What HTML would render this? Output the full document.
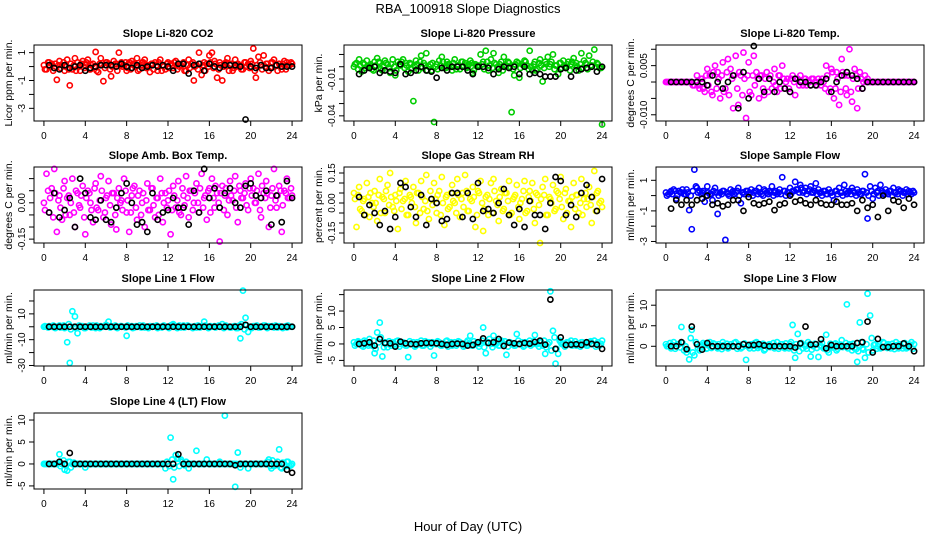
<!DOCTYPE html>
<html><head><meta charset="utf-8"><style>
html,body{margin:0;padding:0;background:#fff}
svg{display:block}
text{font-family:"Liberation Sans",sans-serif}
</style></head><body>
<svg id="chart" width="936" height="540" xmlns="http://www.w3.org/2000/svg">
<text x="468" y="13" text-anchor="middle" font-size="13">RBA_100918  Slope Diagnostics</text>
<text x="468" y="531" text-anchor="middle" font-size="13">Hour of Day (UTC)</text>
</svg>
<script>
const hoursC = [0,0.25,0.5,0.75,1,1.25,1.5,1.75,2,2.25,2.5,2.75,3,3.25,3.5,3.75,4,4.25,4.5,4.75,5,5.25,5.5,5.75,6,6.25,6.5,6.75,7,7.25,7.5,7.75,8,8.25,8.5,8.75,9,9.25,9.5,9.75,10,10.25,10.5,10.75,11,11.25,11.5,11.75,12,12.25,12.5,12.75,13,13.25,13.5,13.75,14,14.25,14.5,14.75,15,15.25,15.5,15.75,16,16.25,16.5,16.75,17,17.25,17.5,17.75,18,18.25,18.5,18.75,19,19.25,19.5,19.75,20,20.25,20.5,20.75,21,21.25,21.5,21.75,22,22.25,22.5,22.75,23,23.25,23.5,23.75,24];
const hoursC2 = [0.1,0.4,0.6,0.9,1.1,1.4,1.6,1.9,2.1,2.4,2.6,2.9,3.1,3.4,3.6,3.9,4.1,4.4,4.6,4.9,5.1,5.4,5.6,5.9,6.1,6.4,6.6,6.9,7.1,7.4,7.6,7.9,8.1,8.4,8.6,8.9,9.1,9.4,9.6,9.9,10.1,10.4,10.6,10.9,11.1,11.4,11.6,11.9,12.1,12.4,12.6,12.9,13.1,13.4,13.6,13.9,14.1,14.4,14.6,14.9,15.1,15.4,15.6,15.9,16.1,16.4,16.6,16.9,17.1,17.4,17.6,17.9,18.1,18.4,18.6,18.9,19.1,19.4,19.6,19.9,20.1,20.4,20.6,20.9,21.1,21.4,21.6,21.9,22.1,22.4,22.6,22.9,23.1,23.4,23.6,23.9];
const hoursK = [0.5,1,1.5,2,2.5,3,3.5,4,4.5,5,5.5,6,6.5,7,7.5,8,8.5,9,9.5,10,10.5,11,11.5,12,12.5,13,13.5,14,14.5,15,15.5,16,16.5,17,17.5,18,18.5,19,19.5,20,20.5,21,21.5,22,22.5,23,23.5,24];
const xTicks = [0,4,8,12,16,20,24];

const co2Color = [0.1,-0.2,0.3,0.2,-0.1,-0.95,0.4,0.1,-0.3,0.5,-1.35,-0.2,0.6,0.3,-0.3,0.4,0.1,0.5,-0.2,0.2,1.05,-0.4,0.6,-1.05,0.3,0.2,-0.7,0.4,0.2,1.0,0.3,0.1,-0.3,0.3,0.4,0.2,0.6,-0.2,0.3,0.5,0.1,-0.4,0.2,0.3,-0.3,0.5,0.1,-0.2,0.3,0.2,-0.1,0.4,0.2,0.1,0.3,-0.3,0.5,0.2,-1.0,0.1,1.0,-0.6,0.3,0.2,0.8,1.0,0.4,-0.8,0.3,-1.0,0.2,0.6,0.1,-0.3,0.5,0.2,0.1,-0.2,0.3,0.2,0.4,1.3,-0.8,0.7,0.1,0.8,0.2,-0.3,0.3,0.5,0.1,0.2,-0.2,0.4,0.3,0.1,0.2];
const co2Color2 = [-0.2,0.3,0.0,-0.3,0.2,0.1,-0.1,0.3,0.0,-0.2,0.2,0.1,-0.3,0.0,0.2,-0.1,0.3,-0.2,0.1,0.0,-0.3,0.2,0.1,-0.1,0.3,-0.2,0.0,0.2,-0.3,0.1,0.0,0.3,-0.1,-0.2,0.2,0.0,-0.3,0.1,0.3,-0.1,0.0,0.2,-0.2,0.1,0.3,-0.3,0.0,0.2,-0.1,0.1,0.3,-0.2,0.0,0.2,-0.3,0.1,-0.1,0.3,0.0,-0.2,0.2,0.1,-0.3,0.0,0.3,-0.1,0.2,-0.2,0.1,0.0,0.3,-0.3,0.2,-0.1,0.0,0.1,-0.2,0.3,0.0,-0.1,0.2,-0.3,0.1,0.3,-0.2,0.0,0.2,-0.1,0.3,0.1,-0.3,0.0,0.2,-0.2,0.1,0.3];
const co2Black = [0.1,-0.1,-0.2,0.1,-0.1,0.0,0.1,-0.3,-0.1,0.0,0.1,0.1,0.1,0.0,0.2,0.0,-0.1,0.1,-0.1,0.0,0.1,0.0,0.1,0.0,-0.3,0.2,0.2,-0.5,0.1,0.2,-0.3,0.2,0.0,-0.1,0.1,0.1,0.1,0.0,-3.8,0.0,-0.1,0.1,-0.1,-0.1,0.1,0.0,0.0,0.0];
const presColor = [0.000,0.003,0.006,-0.004,0.002,0.005,0.001,-0.002,0.004,0.007,0.003,-0.003,0.005,0.002,-0.005,0.006,-0.007,0.004,0.001,0.006,0.003,-0.004,0.002,-0.028,0.005,-0.003,0.009,0.003,0.011,0.000,-0.003,-0.045,0.002,0.005,0.008,-0.001,0.004,0.002,-0.003,0.006,0.001,-0.002,0.004,0.003,0.000,0.005,-0.005,0.002,0.001,0.010,0.004,0.013,-0.003,0.006,0.011,0.002,-0.005,0.004,0.008,0.001,0.003,-0.037,-0.007,0.004,-0.009,0.002,0.005,0.001,0.013,-0.003,0.004,-0.002,0.006,-0.012,0.004,0.008,0.002,0.010,0.001,-0.006,0.003,0.005,-0.001,0.004,0.002,0.007,0.003,-0.003,0.011,0.005,0.002,0.009,0.001,0.014,0.003,-0.001,-0.047];
const presColor2 = [0.002,-0.002,0.001,0.003,-0.001,0.000,0.002,-0.003,0.001,0.004,-0.002,0.000,0.003,-0.001,0.002,0.000,-0.003,0.002,0.004,-0.001,0.001,0.003,-0.002,0.000,0.002,0.004,-0.001,0.001,-0.003,0.002,0.003,0.000,-0.002,0.001,0.004,-0.001,0.002,0.000,0.003,-0.002,0.001,0.004,0.000,-0.001,0.002,0.003,-0.003,0.001,0.000,0.002,-0.002,0.004,0.001,-0.001,0.003,0.000,0.002,-0.003,0.001,0.004,0.000,-0.002,0.002,0.003,-0.001,0.001,0.004,-0.002,0.000,0.002,-0.003,0.003,0.001,-0.001,0.002,0.000,0.004,-0.002,0.001,0.003,-0.001,0.000,0.002,-0.003,0.004,0.001,0.000,0.002,-0.001,0.003,-0.002,0.001,0.004,0.000,0.002,-0.001];
const presBlack = [-0.006,-0.003,-0.001,0.000,-0.005,-0.003,-0.004,-0.005,0.002,-0.006,-0.005,-0.003,0.000,-0.003,-0.004,-0.009,-0.001,-0.003,0.000,0.000,0.000,-0.003,-0.006,0.000,0.000,-0.001,-0.006,-0.002,0.000,-0.001,0.000,-0.006,0.000,-0.006,-0.005,-0.006,-0.008,-0.008,-0.008,-0.002,-0.001,-0.008,-0.003,-0.002,-0.001,0.000,-0.004,0.000];
const tempColor = [0,0,0,0,0,0,0,0,0,0,0,-0.001,0.002,-0.002,0.001,-0.003,0.004,0.002,-0.004,0.005,0.003,-0.005,0.006,-0.002,0.007,0.004,-0.008,0.008,-0.007,0.002,0.009,-0.011,0.006,-0.004,0.008,0.003,-0.005,0.002,-0.004,0.003,0.001,-0.002,0.004,-0.003,0.002,0.005,-0.002,0.001,-0.003,0.002,-0.004,0.001,0.002,-0.001,0.001,0.000,-0.001,0.001,0.000,0.001,-0.001,0.000,0.005,-0.003,0.004,-0.005,0.003,-0.007,0.007,0.002,-0.004,0.010,-0.006,0.004,-0.008,0.003,-0.002,0.002,0.001,0,0,0,0,0,0,0,0,0,0,0,0,0,0,0,0,0,0];
const tempColor2 = [0,0,0,0,0,0,0,0,0,0,-0.001,0,-0.001,0.001,-0.002,0.002,-0.001,-0.003,0.003,-0.002,0.001,0.002,-0.003,0.003,-0.004,0.001,0.002,-0.002,0.003,-0.004,0.001,0.002,-0.003,0.002,-0.001,0.001,0.002,-0.002,0.001,-0.003,0.002,0.000,-0.001,0.002,-0.002,0.001,0.000,-0.002,0.001,0.000,0.001,-0.001,0.000,0.001,-0.001,0.000,0.001,0.000,-0.001,0.000,0.001,-0.002,0.002,-0.002,0.003,-0.002,0.001,-0.003,0.003,-0.002,0.002,-0.003,0.001,0.002,-0.002,0.001,0.000,0,0,0,0,0,0,0,0,0,0,0,0,0,0,0,0,0,0,0];
const tempBlack = [0,0,0,0,0,0,0,-0.001,0.002,0,-0.002,0,0.002,-0.008,0.003,-0.005,0.011,0.001,-0.003,0.001,-0.003,0,-0.002,-0.003,0.001,0,0,-0.001,-0.001,0,0.001,-0.003,0.0,0.002,0.003,0.002,0.001,-0.002,0,0,0,0,0,0,0,0,0,0];
const ambColor = [0.0,0.12,-0.04,0.06,0.14,-0.12,0.03,-0.07,0.09,0.02,-0.05,0.1,-0.1,0.04,-0.02,0.07,-0.13,0.05,0.0,-0.08,0.08,-0.03,0.11,-0.06,0.02,0.09,-0.09,0.04,-0.11,0.06,0.01,0.1,-0.04,-0.12,0.03,0.07,-0.07,0.05,0.0,-0.1,0.08,-0.03,0.06,-0.06,0.02,0.1,-0.08,0.04,0.01,-0.13,0.07,-0.02,0.09,-0.05,0.03,0.11,-0.06,0.05,0.0,0.08,-0.04,0.12,0.02,-0.07,0.06,0.1,-0.02,0.04,-0.16,0.07,0.03,-0.05,0.09,0.01,0.11,-0.08,0.05,0.02,0.08,-0.03,0.1,0.06,0.0,0.12,-0.06,0.04,0.09,-0.1,0.03,0.14,-0.02,0.07,-0.12,0.05,0.1,0.02,0.03];
const ambColor2 = [-0.03,0.05,0.02,-0.06,0.04,0.01,-0.02,0.06,-0.05,0.03,0.0,-0.04,0.05,-0.01,0.03,-0.06,0.02,0.04,-0.03,0.06,-0.02,0.01,0.05,-0.04,0.03,-0.01,0.04,-0.05,0.02,0.0,-0.03,0.05,0.01,-0.04,0.06,-0.02,0.03,-0.05,0.04,0.01,-0.03,0.06,-0.01,0.02,-0.05,0.04,0.0,-0.02,0.05,-0.03,0.03,0.01,-0.04,0.06,-0.01,0.02,0.05,-0.03,0.04,0.0,0.06,-0.02,0.03,0.05,-0.04,0.02,0.07,0.0,0.04,-0.03,0.06,0.01,0.03,0.05,-0.02,0.07,0.02,0.04,-0.01,0.06,0.03,0.0,0.05,-0.03,0.07,0.02,0.04,-0.02,0.06,0.01,0.03,0.05,-0.01,0.04,0.02,0.06,0.0];
const ambBlack = [-0.04,0.04,-0.06,-0.03,0.02,-0.1,0.1,0.04,-0.06,-0.07,0.01,-0.07,-0.08,-0.02,0.04,0.08,0.0,-0.09,-0.08,-0.12,0.04,-0.07,-0.04,-0.03,0.02,-0.02,-0.02,-0.09,0.05,-0.04,0.14,0.02,0.06,-0.02,0.04,0.06,0.0,-0.02,0.07,0.08,0.03,0.02,0.05,-0.09,0.03,-0.08,0.09,0.02];
const rhColor = [0.05,-0.12,0.08,-0.04,0.02,0.1,-0.07,0.0,0.06,-0.09,0.12,0.03,-0.05,0.09,0.15,-0.02,0.04,-0.13,0.07,0.01,0.11,-0.06,0.03,0.08,-0.1,0.05,0.11,-0.03,0.14,-0.08,0.02,0.1,-0.05,0.06,0.13,-0.11,0.04,-0.02,0.09,0.0,0.12,-0.07,0.05,0.14,-0.04,0.02,0.08,-0.12,0.06,0.11,-0.14,0.03,-0.06,0.1,0.12,0.01,-0.09,0.07,-0.03,0.05,0.11,-0.05,0.03,0.09,-0.08,0.02,0.11,-0.04,0.06,0.1,-0.1,0.04,-0.2,0.08,0.12,-0.06,0.02,0.09,-0.03,0.05,0.13,-0.08,0.07,0.01,-0.12,0.1,0.04,-0.05,0.12,0.02,-0.02,0.08,-0.1,0.16,0.05,0.0,-0.02];
const rhColor2 = [0.02,0.04,-0.03,0.01,-0.06,0.03,0.05,-0.02,0.0,0.04,-0.05,0.02,0.06,-0.01,0.03,-0.04,0.01,0.05,-0.03,0.02,-0.06,0.04,0.0,-0.02,0.05,-0.05,0.03,0.01,-0.04,0.06,-0.01,0.02,0.04,-0.06,0.0,0.03,-0.03,0.05,0.01,-0.05,0.04,0.02,-0.02,0.06,-0.04,0.01,0.03,-0.06,0.05,0.0,-0.03,0.04,0.02,-0.05,0.06,-0.01,0.03,-0.04,0.05,0.01,-0.06,0.02,0.04,-0.02,0.0,0.06,-0.05,0.03,0.01,-0.03,0.05,-0.01,0.02,0.04,-0.06,0.03,0.0,-0.04,0.06,0.02,-0.02,0.05,-0.05,0.01,0.03,-0.03,0.04,0.0,-0.06,0.05,0.02,-0.01,0.03,-0.04,0.06,0.01,-0.02];
const rhBlack = [0.03,-0.06,-0.01,-0.05,-0.11,-0.04,-0.13,-0.07,0.1,0.08,-0.02,-0.07,0.04,-0.11,0.02,0.0,-0.09,-0.08,0.05,0.05,-0.07,0.05,-0.08,0.1,-0.04,-0.03,-0.05,0.0,0.07,-0.06,-0.11,-0.03,-0.12,0.01,-0.06,-0.06,-0.13,0.0,0.13,0.11,-0.06,-0.01,-0.07,0.05,0.09,0.03,-0.04,0.12];
const flowColor = [0.2,0.1,0.3,0.4,-0.2,0.3,0.2,0.1,0.4,-0.95,-2.2,1.7,0.5,0.3,0.2,-0.4,0.6,0.1,-0.3,0.5,-1.2,0.2,0.3,-2.9,0.1,0.4,0.3,0.2,0.5,-0.5,0.2,0.3,0.1,0.4,0.2,0.3,0.5,0.1,0.4,0.2,0.3,0.6,0.2,0.1,0.4,1.2,0.3,0.2,0.5,0.3,0.9,0.4,0.7,0.2,0.5,0.3,0.6,0.2,0.8,0.4,0.2,0.3,0.1,0.4,0.2,-0.3,0.3,0.5,0.2,0.7,0.1,0.3,0.5,0.2,0.4,0.1,0.3,1.4,-1.5,0.6,-0.2,0.5,0.3,0.7,0.2,0.4,0.1,0.3,0.5,0.2,0.4,0.3,0.2,0.4,0.3,0.1,0.2];
const flowColor2 = [0.0,0.2,0.1,0.3,0.0,0.2,0.4,0.1,0.2,0.0,0.3,0.6,0.2,0.1,0.3,0.0,0.2,0.1,0.3,0.2,0.0,0.1,0.3,0.2,0.0,0.2,0.1,0.3,0.0,0.2,0.1,0.3,0.2,0.0,0.3,0.1,0.2,0.0,0.3,0.1,0.2,0.0,0.3,0.2,0.1,0.3,0.0,0.2,0.1,0.3,0.4,0.2,0.5,0.3,0.1,0.4,0.2,0.3,0.1,0.2,0.0,0.3,0.1,0.2,0.0,0.3,0.1,0.2,0.0,0.3,0.2,0.1,0.3,0.0,0.2,0.1,0.3,0.2,0.0,0.3,0.1,0.2,0.0,0.3,0.1,0.2,0.3,0.0,0.2,0.1,0.3,0.0,0.2,0.1,0.2,0.3,0.0];
const flowBlack = [-0.85,-0.3,-0.6,-0.3,-0.6,-0.3,-0.2,0.0,-0.6,-0.5,-0.7,-0.6,-0.3,-0.3,-1.0,-0.1,-0.5,-0.6,-0.5,-0.4,-0.95,-0.6,-0.5,0.0,-0.4,-0.3,-0.5,-0.6,-0.3,-0.5,-0.6,-0.6,-0.4,-0.6,-0.6,-0.5,-1.0,-0.3,-0.8,-0.6,-1.4,0.0,-1.0,-0.3,-0.4,-0.8,-0.2,-0.6];
const line1Color = [0,0,0.5,0,-0.5,0,1,0,-1,-12,-28,12,8,-5,0,0.5,-1,0,0.5,1,-1,0,0.5,0,1.5,4,0.5,0,-0.5,0,0.5,0,-7,0,0.5,-0.5,0,1,0,-0.5,0,0.5,0,0,-1,0,0.5,0,0,1,2,0.5,0,-0.5,1,0,0.5,0,0,-0.5,0,0.5,4,0,-0.5,0,0.5,0,0,2,0.5,0,-0.5,0,0.5,-1,-9,28,7,-4,0,0.5,0,-0.5,0,1,0,0.5,0,-0.5,0,0.5,0,0,-0.5,0,0];
const line1Color2 = [0.5,-0.5,0,1,-1,0.5,-0.5,1,0,2,-2,0,-1,1,0.5,-1,0,1,-0.5,0,1,-1,0,0.5,1,-0.5,0,1,-1,0.5,0,-0.5,1,0,-1,0.5,0,-0.5,1,0,-1,0,0.5,1,0,-0.5,1,0,-1,1.5,0,-1,1,0,-0.5,1,0,-1,0.5,1,-0.5,0,1,-1,0.5,0,-0.5,1,0,-1,1,0,-0.5,0.5,-1,1,2,-2,1,0,-1,0.5,1,-0.5,0,1,-1,0,0.5,1,-0.5,0,-1,0.5,1,0,-0.5];
const line1Black = [0,0,0,0,0,0,0,0,0,0,0,0,0,0,0,0,0,0,0,0,0,0,0,0,0,0,0,0,0,0,0,0,0,0,0,0,0,0,1.5,0,0,0,0,0,0,0,0,0];
const line2Color = [0.5,0,0.5,-0.5,1,0,1.5,-0.5,-2.8,3.5,6.5,-3.8,0.5,-1,0,0.5,-0.5,1,0,0.5,-0.5,-4,0,0.5,-0.5,0,1,-0.5,0,0.5,0,-3.5,0,0.5,-0.5,0,1,0,-0.5,0.5,0,0.5,0,-0.5,1,2.5,-0.5,0,0.5,0,5,-2.8,0.5,0,2.5,0,-0.5,1,0,-3.3,0.5,0,-0.5,3,0,0.5,-0.5,0,1,0,2.7,0,0.5,-0.5,-3,0,16,4,-6,-3,0.5,0,-0.5,0.5,1,0,-0.5,0,0.5,0,-0.5,0.5,0,1,0,-0.5,1];
const line2Color2 = [-0.5,0.8,0,-0.8,0.5,-0.5,0,1,-1.5,0.5,2,-1,0,0.8,-0.5,0,0.8,-0.8,0.5,0,-0.5,0.8,0,-0.8,0.5,0,-0.5,0.8,0,-0.8,0.5,0,0.8,-0.5,0,0.8,-0.8,0.5,0,-0.5,0.8,0,-0.8,0.5,0,-0.5,0.8,0,-0.8,1,-1,0.5,1.5,-1,0,0.8,-0.5,0,0.8,-0.8,0.5,0,-0.5,1,0,-0.8,0.5,0,-0.5,0.8,0,-0.8,0.5,1,-1,0.5,-2,2,-1.5,1,0,-0.8,0.5,0,-0.5,0.8,0,-0.8,0.5,0,-0.5,0.8,0,-0.8,0.5,0,-0.5];
const line2Black = [0,0.2,0.5,-0.5,1.5,0.3,0.2,-0.8,0.7,0.2,0,-0.1,0.2,0.3,0.3,0.2,0,-0.3,0,0.1,0,-0.5,-0.3,0.5,1.7,0.3,0.5,1.5,-0.6,0.4,0.2,0,0.3,0.1,0.6,1,-0.2,13.5,-1.5,2,-0.3,-0.2,-0.1,-0.3,0.5,0,-0.2,-1.5];
const line3Color = [0.5,0,-0.5,1,0,0.5,4.7,-1,-1.5,-3.2,4,-2.2,0.5,-1,0,0.5,-0.5,1,0,0.5,-0.5,0,1,0,-0.5,0.5,0,1,0,-0.5,0.5,-3.3,0,0.5,-0.5,1,0,0.5,-1,0,0.5,0,-0.5,1,0,0.5,-0.5,0,0.5,5.2,-2.8,3,0.5,-0.5,0,1,-2.5,0,0.5,-2.6,0,-0.5,2.8,-1.5,0,0.5,-1,0,1.5,0,10.2,0.5,-1,-0.5,-3.8,5.8,-0.5,-2.8,12.8,7.5,-1,0.5,0,-0.5,1,0,0.5,-0.5,0,1,-0.5,0,0.5,-0.5,0,1,0.5];
const line3Color2 = [0,0.8,0.3,-0.6,0.5,-0.3,0.8,0,-0.8,2,-1.5,1,-0.5,0.3,0.8,-0.6,0.2,-0.4,0.7,-0.2,0.5,-0.7,0.3,0.6,-0.3,0,0.8,-0.6,0.4,-0.2,0.7,0,-0.5,0.3,0.8,-0.4,0.1,0.6,-0.7,0.3,-0.2,0.8,0,-0.6,0.5,-0.3,0.7,-0.5,1,-1,0.5,-1.2,0.8,0.3,-0.6,0.5,-0.8,0.6,-0.4,0.2,0.8,-0.5,-1,0.6,-0.3,0.7,-0.6,0.4,-0.2,0.8,-0.5,0.3,0.6,-0.7,-1.2,1,-0.8,0.5,-1.5,2,0.3,-0.6,0.5,-0.3,0.8,-0.4,0.2,0.6,-0.7,0.3,0.5,-0.5,0.8,-0.3,0.4,-0.6,0.2];
const line3Black = [0,0,1,-0.7,4.8,0.5,-0.8,0.8,0,0,0,0,0,0,0.5,0.3,0.3,0.5,0.2,0,0,0,0,0,-0.3,0.7,4.8,0.4,0.5,1.7,-0.5,0.3,0,0,0,0,0.8,1,6,-1.5,1.8,-0.2,-0.2,0,0,0.7,0,-1.2];
const line4Color = [0,0,0,0,0,0,2.2,0,-1.3,-1.5,0.5,0,0,0,0,0,-0.8,0,0,0,0,0,0,0,0,0,0,0,0,0,0,0,0,0,0,0,0,0,0,0,0,0,0,0,0,0,0,-1,0,6,-3.5,2,1.3,1,0,0.5,-1,0,0,3,0,0,0,1,0,0,0,0,0.5,0,11,0,0,0,-5.2,2.6,-0.8,0,0,-1,0,0,0,0,0,0,0,1,-1,-0.5,0,3.3,-1,0,0.5,-0.5,0];
const line4Color2 = [0,0,0,0,0,0.3,-0.5,0.8,-0.3,0.5,-0.8,0.3,0,0,0,0,0,0,0,0,0,0,0,0,0,0,0,0,0,0,0,0,0,0,0,0,0,0,0,0,0,0,0,0,0,0,0,0.5,-0.5,1,-0.8,1.2,-0.5,0.5,-0.3,0,0,0,0,0,0,0,0,0,0,0,0,0,0,0,0,0,0,0,0,0,0,0,0,0,0,0,0,0,0,0,0.5,-0.5,0.8,-0.3,0.5,-0.8,0.3,-0.5,0.5,-0.3,0];
const line4Black = [0,0,0.5,0,2.5,0,0,0,0,0,0,0,0,0,0,0,0,0,0,0,0,0,0,0,0,2.2,0,0,0,0,0,0,0,0,0,0,-0.3,0,0,0,0,0,0,0,0,0,-1.3,-2];

const panels = [
 {id:'co2',title:'Slope Li-820 CO2',ylab:'Licor ppm per min.',col:0,row:0,ymin:-3.91,ymax:1.55,ticks:[1,0,-1,-2,-3],labels:['1','','-1','','-3'],color:'#ff0000',c:co2Color,c2:co2Color2,k:co2Black},
 {id:'pressure',title:'Slope Li-820 Pressure',ylab:'kPa per min.',col:1,row:0,ymin:-0.0442,ymax:0.0177,ticks:[0.01,0,-0.01,-0.02,-0.03,-0.04],labels:['','','-0.01','','','-0.04'],color:'#00cd00',c:presColor,c2:presColor2,k:presBlack},
 {id:'temp',title:'Slope Li-820 Temp.',ylab:'degrees C per min.',col:2,row:0,ymin:-0.0119,ymax:0.0113,ticks:[0.01,0.005,0,-0.005,-0.01],labels:['','0.005','','','-0.010'],color:'#ff00ff',c:tempColor,c2:tempColor2,k:tempBlack},
 {id:'amb-temp',title:'Slope Amb. Box Temp.',ylab:'degrees C per min.',col:0,row:1,ymin:-0.166,ymax:0.148,ticks:[0.1,0.05,0,-0.05,-0.1,-0.15],labels:['','','0.00','','','-0.15'],color:'#ff00ff',c:ambColor,c2:ambColor2,k:ambBlack},
 {id:'rh',title:'Slope Gas Stream RH',ylab:'percent per min.',col:1,row:1,ymin:-0.2,ymax:0.18,ticks:[0.15,0.1,0.05,0,-0.05,-0.1,-0.15],labels:['0.15','','','0.00','','','-0.15'],color:'#ffff00',c:rhColor,c2:rhColor2,k:rhBlack},
 {id:'sample-flow',title:'Slope Sample Flow',ylab:'ml/min per min.',col:2,row:1,ymin:-3.1,ymax:1.87,ticks:[1,0,-1,-2,-3],labels:['1','','-1','','-3'],color:'#0000ff',c:flowColor,c2:flowColor2,k:flowBlack},
 {id:'line1',title:'Slope Line 1 Flow',ylab:'ml/min per min.',col:0,row:2,ymin:-30.4,ymax:28.5,ticks:[20,10,0,-10,-20,-30],labels:['','10','','-10','','-30'],color:'#00ffff',c:line1Color,c2:line1Color2,k:line1Black},
 {id:'line2',title:'Slope Line 2 Flow',ylab:'ml/min per min.',col:1,row:2,ymin:-6.7,ymax:16.4,ticks:[15,10,5,0,-5],labels:['','10','5','0','-5'],color:'#00ffff',c:line2Color,c2:line2Color2,k:line2Black},
 {id:'line3',title:'Slope Line 3 Flow',ylab:'ml/min per min.',col:2,row:2,ymin:-4.8,ymax:13.7,ticks:[10,5,0],labels:['10','5','0'],color:'#00ffff',c:line3Color,c2:line3Color2,k:line3Black},
 {id:'line4',title:'Slope Line 4 (LT) Flow',ylab:'ml/min per min.',col:0,row:3,ymin:-5.7,ymax:11.6,ticks:[10,5,0,-5],labels:['10','5','0','-5'],color:'#00ffff',c:line4Color,c2:line4Color2,k:line4Black}
];

const NS='http://www.w3.org/2000/svg';
const svg=document.getElementById('chart');
const colLeft=[34,344,656], rowTop=[45,167,290,413], W=268, H=76;
function mk(tag,attrs,parent){const e=document.createElementNS(NS,tag);for(const a in attrs)e.setAttribute(a,attrs[a]);parent.appendChild(e);return e;}

panels.forEach(p=>{
  const L=colLeft[p.col], T=rowTop[p.row];
  const g=mk('g',{},svg);
  
  
  const xs=h=>L+(h+0.96)/25.92*W;
  const ys=v=>T+(p.ymax-v)/(p.ymax-p.ymin)*H;
  const t=mk('text',{x:L+W/2,y:T-8,'text-anchor':'middle','font-size':'11','font-weight':'bold'},g);
  t.textContent=p.title;
  
  
  const yl=mk('text',{x:0,y:0,'text-anchor':'middle','font-size':'10.5',transform:`translate(${L-22},${T+H/2}) rotate(-90)`},g);
  yl.textContent=p.ylab;
  
  
  const pg=mk('g',{fill:'none','stroke-width':'1.6'},g);
  
  
  p.c2.forEach((v,i)=>{ if(i>=hoursC2.length) return;
    const c=mk('circle',{cx:xs(hoursC2[i]),cy:ys(v),r:2.6,stroke:p.color},pg);
    
    
  });
  p.c.forEach((v,i)=>{ if(i>=hoursC.length) return;
    const c=mk('circle',{cx:xs(hoursC[i]),cy:ys(v),r:2.6,stroke:p.color},pg);
    
    
  });
  p.k.forEach((v,i)=>{ if(i>=hoursK.length) return;
    const c=mk('circle',{cx:xs(hoursK[i]),cy:ys(v),r:2.6,stroke:'#000'},pg);
    
    
  });
  const b=mk('rect',{x:L,y:T,width:W,height:H,fill:'none',stroke:'#000','stroke-width':'1'},g);
  
  
  const xa=mk('g',{},g);
  
  
  xTicks.forEach(h=>{
    mk('line',{x1:xs(h),x2:xs(h),y1:T+H,y2:T+H+5,stroke:'#000'},xa);
    const tl=mk('text',{x:xs(h),y:T+H+18,'text-anchor':'middle','font-size':'10'},xa);
    tl.textContent=String(h);
    
    
  });
  const ya=mk('g',{},g);
  
  
  p.ticks.forEach((v,i)=>{
    mk('line',{x1:L-5,x2:L,y1:ys(v),y2:ys(v),stroke:'#000'},ya);
    if(p.labels[i]){
      const tl=mk('text',{x:0,y:0,'text-anchor':'middle','font-size':'10',transform:`translate(${L-9},${ys(v)}) rotate(-90)`},ya);
      tl.textContent=p.labels[i];
      
      
    }
  });
});
</script>
</body></html>
